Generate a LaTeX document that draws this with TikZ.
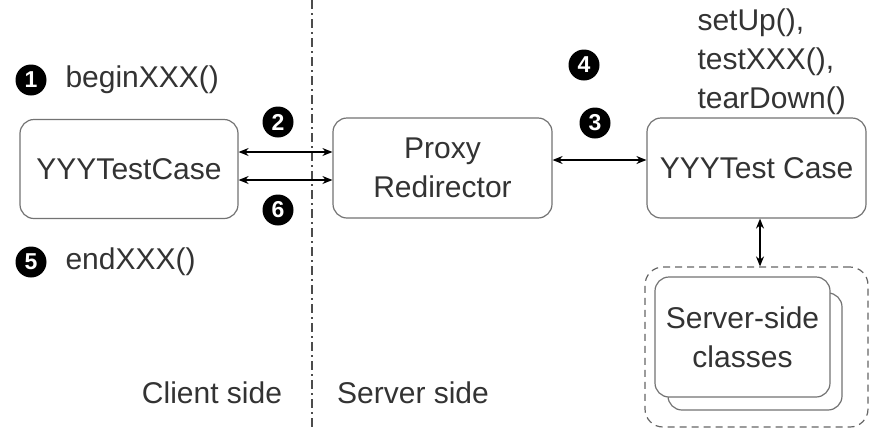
\documentclass[tikz,border=0pt]{standalone}
\usepackage{fontspec}
\setmainfont{Liberation Sans}
\usetikzlibrary{arrows.meta}
\begin{document}
\begin{tikzpicture}[x=1pt,y=-1pt,
  box/.style={draw=black!55, line width=1.2pt, rounded corners=14pt, fill=white},
  txt/.style={font=\fontsize{30}{39}\selectfont, text=black!80},
  num/.style={circle, fill=black, text=white, inner sep=0pt, minimum size=31pt, font=\fontsize{23}{23}\selectfont\bfseries},
  conn/.style={line width=1.5pt, {Stealth[length=10pt,width=8pt]}-{Stealth[length=10pt,width=8pt]}}
]
\useasboundingbox[fill=white] (0,0) rectangle (872,429);
\draw[line width=1.2pt, black!70, dash pattern=on 9pt off 4pt on 2pt off 4pt] (312,0) coordinate (divtop) -- (312,429) coordinate (divbot);

\node[box, minimum width=218pt, minimum height=99pt, txt] (client) at (129,169) {YYYTestCase};
\node[box, minimum width=219pt, minimum height=100pt, txt, align=center] (proxy) at (442.5,168) {Proxy\\Redirector};
\node[box, minimum width=219pt, minimum height=100pt, txt] (server) at (756.5,168) {YYYTest Case};

\node[draw=black!60, line width=1.2pt, dash pattern=on 7pt off 5pt, rounded corners=18pt, minimum width=223pt, minimum height=160pt] (group) at (756.5,347) {};
\node[box, minimum width=174pt, minimum height=117pt] (back) at (755,351.5) {};
\node[box, minimum width=175pt, minimum height=120pt, txt, align=center] (classes) at (742.5,337) {Server-side\\classes};

\draw[conn] (client.east |- 0,152) -- (proxy.west |- 0,152);
\draw[conn] (client.east |- 0,180) -- (proxy.west |- 0,180);
\draw[conn] (proxy.east |- 0,160) -- (server.west |- 0,160);
\draw[conn] (server.south -| 760,0) -- (group.north -| 760,0);

\node[num] (n1) at (31,80) {1};
\node[txt, anchor=west] (t1) at (62,80) {beginXXX()};
\node[num] (n5) at (31,262) {5};
\node[txt, anchor=west] (t5) at (62,262) {endXXX()};
\node[num] (n2) at (278,122) {2};
\node[num] (n6) at (278,210) {6};
\node[num] (n3) at (595,123) {3};
\node[num] (n4) at (584,65) {4};
\node[txt, anchor=west, align=left] (t4) at (694,62) {setUp(),\\testXXX(),\\tearDown()};

\node[txt] (cs) at (212,393) {Client side};
\node[txt] (ss) at (413,393) {Server side};
\end{tikzpicture}
\end{document}
